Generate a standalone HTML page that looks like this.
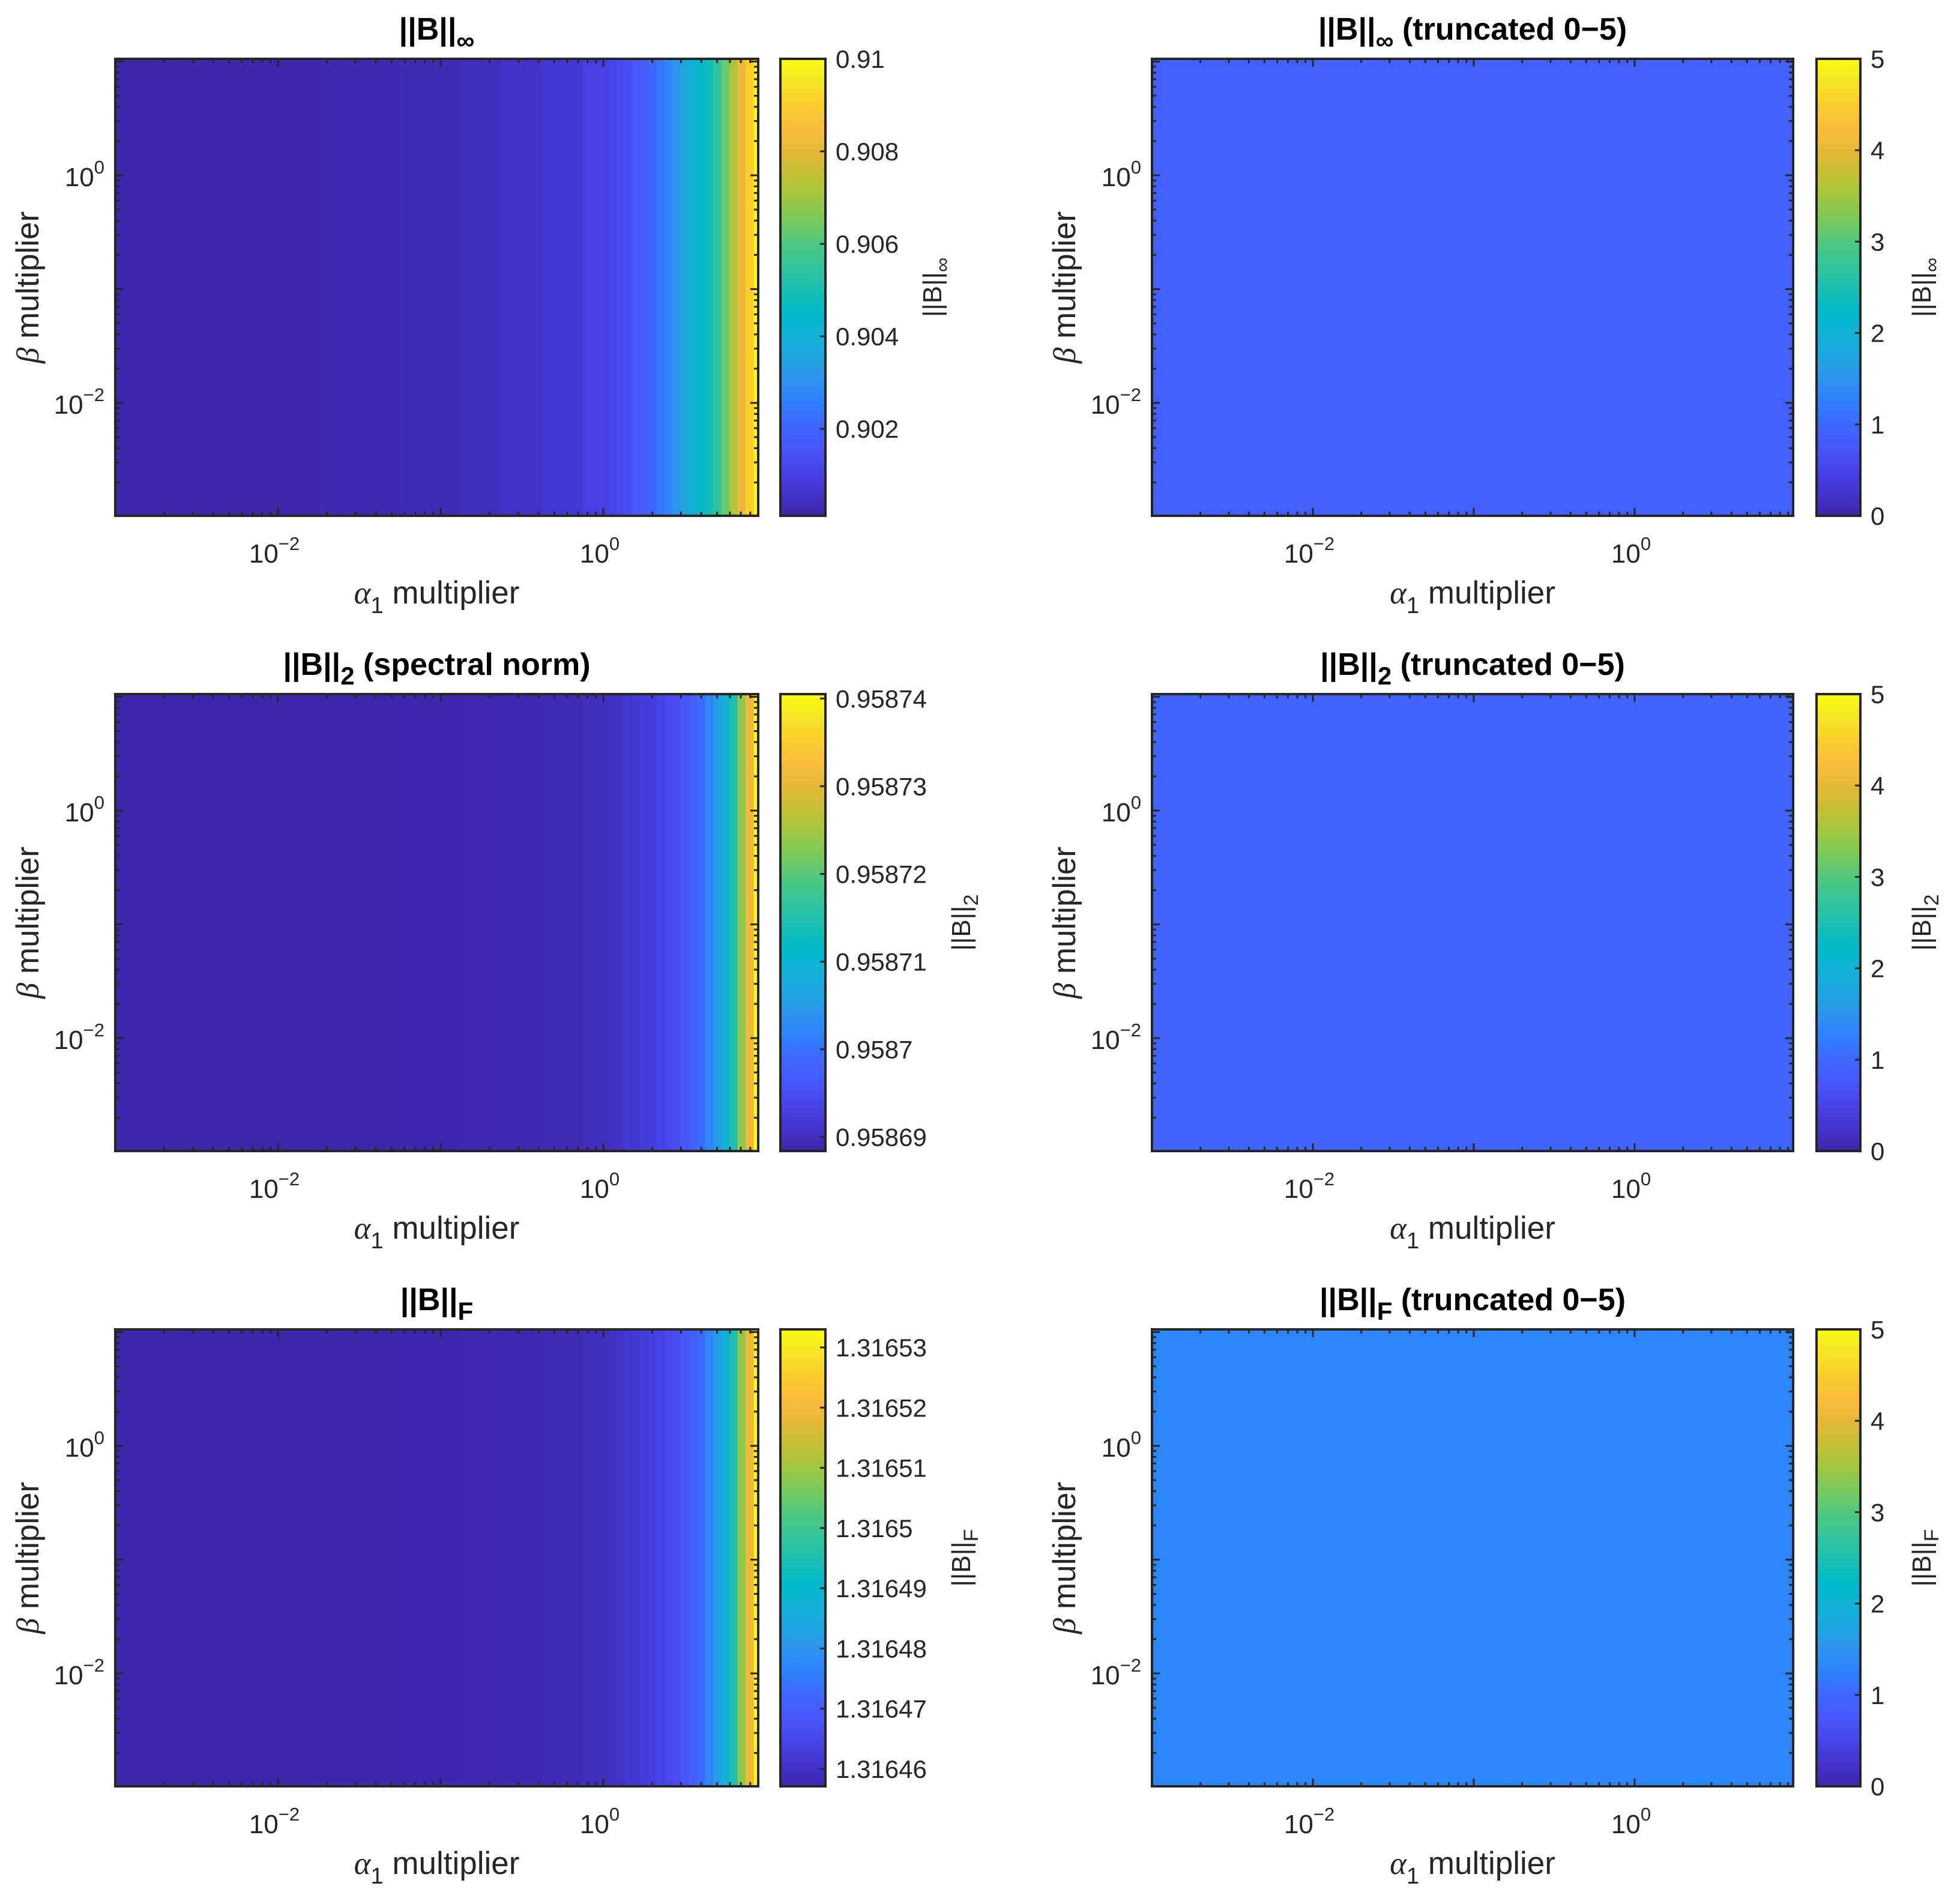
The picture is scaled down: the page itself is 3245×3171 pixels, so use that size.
<!DOCTYPE html>
<html><head><meta charset="utf-8"><style>
html,body{margin:0;padding:0;background:#fff;}
svg{display:block;font-family:"Liberation Sans",sans-serif;}
</style></head><body>
<svg id="fig" width="3245" height="3171" viewBox="0 0 3245 3171" xmlns="http://www.w3.org/2000/svg"></svg>
<script>
// alpha grid (log10 of alpha_1 multiplier)
const alphaLog = [-3,-2.5,-2,-1.5,-1,-0.75,-0.5,-0.25,0,0.05,0.1,0.15,0.2,0.25,0.3,0.35,0.4,0.45,0.5,0.55,0.6,0.65,0.7,0.75,0.8,0.85,0.9,0.95];
const normInf = [0.90012,0.90014,0.90017,0.90022,0.90032,0.90042,0.90056,0.90076,0.90101,0.90111,0.90126,0.90140,0.90160,0.90180,0.90210,0.90239,0.90279,0.90318,0.90358,0.90397,0.90447,0.90486,0.90546,0.90634,0.90723,0.90812,0.90901,0.91];
const norm2 = [0.9586884,0.9586884,0.9586885,0.9586885,0.9586887,0.9586888,0.9586890,0.9586894,0.9586900,0.9586902,0.9586907,0.9586913,0.9586918,0.9586923,0.9586928,0.9586933,0.9586941,0.9586949,0.9586960,0.9586973,0.9586993,0.9587019,0.9587051,0.9587092,0.9587145,0.9587238,0.9587311,0.9587405];
const normF = [1.3164571,1.3164571,1.3164572,1.3164573,1.3164575,1.3164577,1.3164580,1.3164586,1.3164594,1.3164598,1.3164605,1.3164613,1.3164620,1.3164628,1.3164636,1.3164643,1.3164654,1.3164666,1.3164681,1.3164700,1.3164730,1.3164768,1.3164814,1.3164875,1.3164951,1.3165087,1.3165193,1.316533];
const cbarInfTicks = [0.902,0.904,0.906,0.908,0.91];
const cbarInfLabels = ["0.902","0.904","0.906","0.908","0.91"];
const cbar2Ticks = [0.95869,0.9587,0.95871,0.95872,0.95873,0.95874];
const cbar2Labels = ["0.95869","0.9587","0.95871","0.95872","0.95873","0.95874"];
const cbarFTicks = [1.31646,1.31647,1.31648,1.31649,1.3165,1.31651,1.31652,1.31653];
const cbarFLabels = ["1.31646","1.31647","1.31648","1.31649","1.3165","1.31651","1.31652","1.31653"];
const truncTicks = [0,1,2,3,4,5];
const truncLabels = ["0","1","2","3","4","5"];
const xTickLogs = [-2,0];
const yTickLogs = [-2,0];

const NS="http://www.w3.org/2000/svg";
const svg=document.getElementById('fig');
function mk(tag,attrs,parent){const e=document.createElementNS(NS,tag);for(const k in attrs)e.setAttribute(k,attrs[k]);(parent||svg).appendChild(e);return e;}

const PAR=[[0,'#3e26a8'],[0.05,'#4233ca'],[0.1,'#4743e8'],[0.15,'#4757fb'],[0.2,'#4066ff'],[0.25,'#2f80fe'],[0.3,'#2d93ee'],[0.35,'#1fa6e0'],[0.4,'#0fb2d5'],[0.45,'#00b9c7'],[0.5,'#1ebfb0'],[0.55,'#35c49a'],[0.6,'#52c87e'],[0.65,'#7bc95c'],[0.7,'#a1c842'],[0.75,'#c6bf35'],[0.8,'#e6b93a'],[0.85,'#fbbc3d'],[0.9,'#fcce2e'],[0.95,'#f5e525'],[1,'#f9fb15']];
function hex(h){return [1,3,5].map(i=>parseInt(h.substr(i,2),16));}
function parula(f){f=Math.max(0,Math.min(1,f));for(let i=1;i<PAR.length;i++){if(f<=PAR[i][0]){const a=PAR[i-1],b=PAR[i];const t=(f-a[0])/(b[0]-a[0]);const ca=hex(a[1]),cb=hex(b[1]);return 'rgb('+ca.map((v,j)=>Math.round(v+(cb[j]-v)*t)).join(',')+')';}}return PAR[PAR.length-1][1];}

const C='#262626';
const panels=[
 {col:0,row:0,vals:normInf,cmin:0.90012,cmax:0.91,ticks:cbarInfTicks,labels:cbarInfLabels,title:['||B||','∞',''],sub:'∞',name:'inf',ctx:1568},
 {col:1,row:0,vals:normInf,cmin:0,cmax:5,ticks:truncTicks,labels:truncLabels,title:['||B||','∞',' (truncated 0−5)'],sub:'∞',name:'inf-trunc',trunc:true,ctx:3216},
 {col:0,row:1,vals:norm2,cmin:0.9586884,cmax:0.9587405,ticks:cbar2Ticks,labels:cbar2Labels,title:['||B||','2',' (spectral norm)'],sub:'2',name:'spectral',ctx:1616},
 {col:1,row:1,vals:norm2,cmin:0,cmax:5,ticks:truncTicks,labels:truncLabels,title:['||B||','2',' (truncated 0−5)'],sub:'2',name:'spectral-trunc',trunc:true,ctx:3216},
 {col:0,row:2,vals:normF,cmin:1.3164571,cmax:1.316533,ticks:cbarFTicks,labels:cbarFLabels,title:['||B||','F',''],sub:'F',name:'frob',ctx:1616},
 {col:1,row:2,vals:normF,cmin:0,cmax:5,ticks:truncTicks,labels:truncLabels,title:['||B||','F',' (truncated 0−5)'],sub:'F',name:'frob-trunc',trunc:true,ctx:3216}
];

panels.forEach(p=>{
 const g=mk('g',{});
 
 
 const L=p.col?1919:192, R=p.col?2987:1263, dec=p.col?268:271, x0=p.col?1919:192;
 const oy=p.row*1058, T=98+oy, B=859+oy;
 const cbL=p.col?3026:1300, cbR=p.col?3099:1375;
 const xs=l=>x0+(l+3)*dec;
 const ys=l=>292+oy-l*189.5;
 const xmaxL=(R-x0)/dec-3;
 const hm=mk('g',{},g);
 
 
 for(let i=0;i<alphaLog.length;i++){
  const a=i==0?L:xs((alphaLog[i-1]+alphaLog[i])/2);
  const b=i==alphaLog.length-1?R:xs((alphaLog[i]+alphaLog[i+1])/2);
  let v=p.vals[i]; if(p.trunc) v=Math.min(5,Math.max(0,v));
  const r=mk('rect',{x:a,y:T,width:Math.max(0,Math.min(b,R)-a)+0.6,height:B-T,fill:parula((v-p.cmin)/(p.cmax-p.cmin))},hm);
  
  
 }
 const tk=mk('g',{stroke:C,'stroke-width':3},g);
 for(let d=-3;d<=1;d++){for(let m=1;m<10;m++){
  const l=d+Math.log10(m); const len=m==1?13:7;
  if(l>=-3&&l<=xmaxL){const x=xs(l);mk('line',{x1:x,y1:B,x2:x,y2:B-len},tk);mk('line',{x1:x,y1:T,x2:x,y2:T+len},tk);}
  const yy=ys(l); if(yy>=T&&yy<=B){mk('line',{x1:L,y1:yy,x2:L+len,y2:yy},tk);mk('line',{x1:R,y1:yy,x2:R-len,y2:yy},tk);}
 }}
 const ax=mk('rect',{x:L,y:T,width:R-L,height:B-T,fill:'none',stroke:C,'stroke-width':4},g);
 
 
 xTickLogs.forEach(l=>{
  const t=mk('text',{x:xs(l)-6,y:937+oy,'font-size':44,fill:C,'text-anchor':'middle'},g);
  
  
  t.innerHTML='10<tspan dy="-21" font-size="31">'+(l<0?'−':'')+Math.abs(l)+'</tspan>';
 });
 yTickLogs.forEach(l=>{
  const t=mk('text',{x:L-18,y:ys(l)+18,'font-size':44,fill:C,'text-anchor':'end'},g);
  
  
  t.innerHTML='10<tspan dy="-21" font-size="31">'+(l<0?'−':'')+Math.abs(l)+'</tspan>';
 });
 const xl=mk('text',{x:(L+R)/2,y:1005+oy,'font-size':53,fill:C,'text-anchor':'middle'},g);
 
 
 xl.innerHTML='<tspan font-style="italic" font-family="Liberation Serif">α</tspan><tspan dy="16" font-size="38">1</tspan><tspan dy="-16"> multiplier</tspan>';
 const ylx=L-128, yly=(T+B)/2;
 const yl=mk('text',{x:ylx,y:yly,'font-size':53,fill:C,'text-anchor':'middle',transform:'rotate(-90 '+ylx+' '+yly+')'},g);
 
 
 yl.innerHTML='<tspan font-style="italic" font-family="Liberation Serif">β</tspan> multiplier';
 const tt=mk('text',{x:(L+R)/2,y:66+oy,'font-size':52,'font-weight':'bold',fill:'#000','text-anchor':'middle'},g);
 
 
 tt.innerHTML=p.title[0]+'<tspan dy="16" font-size="42">'+p.title[1]+'</tspan><tspan dy="-16">'+p.title[2]+'</tspan>';
 const cb=mk('g',{},g);
 
 
 const N=96;
 for(let i=0;i<N;i++){mk('rect',{x:cbL,y:B-(i+1)*(B-T)/N,width:cbR-cbL,height:(B-T)/N+0.8,fill:parula((i+0.5)/N)},cb);}
 mk('rect',{x:cbL,y:T,width:cbR-cbL,height:B-T,fill:'none',stroke:C,'stroke-width':4},cb);
 p.ticks.forEach((v,i)=>{
  const y=B-(v-p.cmin)/(p.cmax-p.cmin)*(B-T);
  mk('line',{x1:cbR,y1:y,x2:cbR-9,y2:y,stroke:C,'stroke-width':3},cb);
  const t=mk('text',{x:cbR+17,y:y+15,'font-size':42,fill:C},cb);
  
  
  t.textContent=p.labels[i];
 });
 const cx=p.ctx, cy=(T+B)/2;
 const ct=mk('text',{x:cx,y:cy,'font-size':44,fill:C,'text-anchor':'middle',transform:'rotate(-90 '+cx+' '+cy+')'},cb);
 
 
 ct.innerHTML='||B||<tspan dy="13" font-size="34">'+p.sub+'</tspan>';
});
</script>
</body></html>
